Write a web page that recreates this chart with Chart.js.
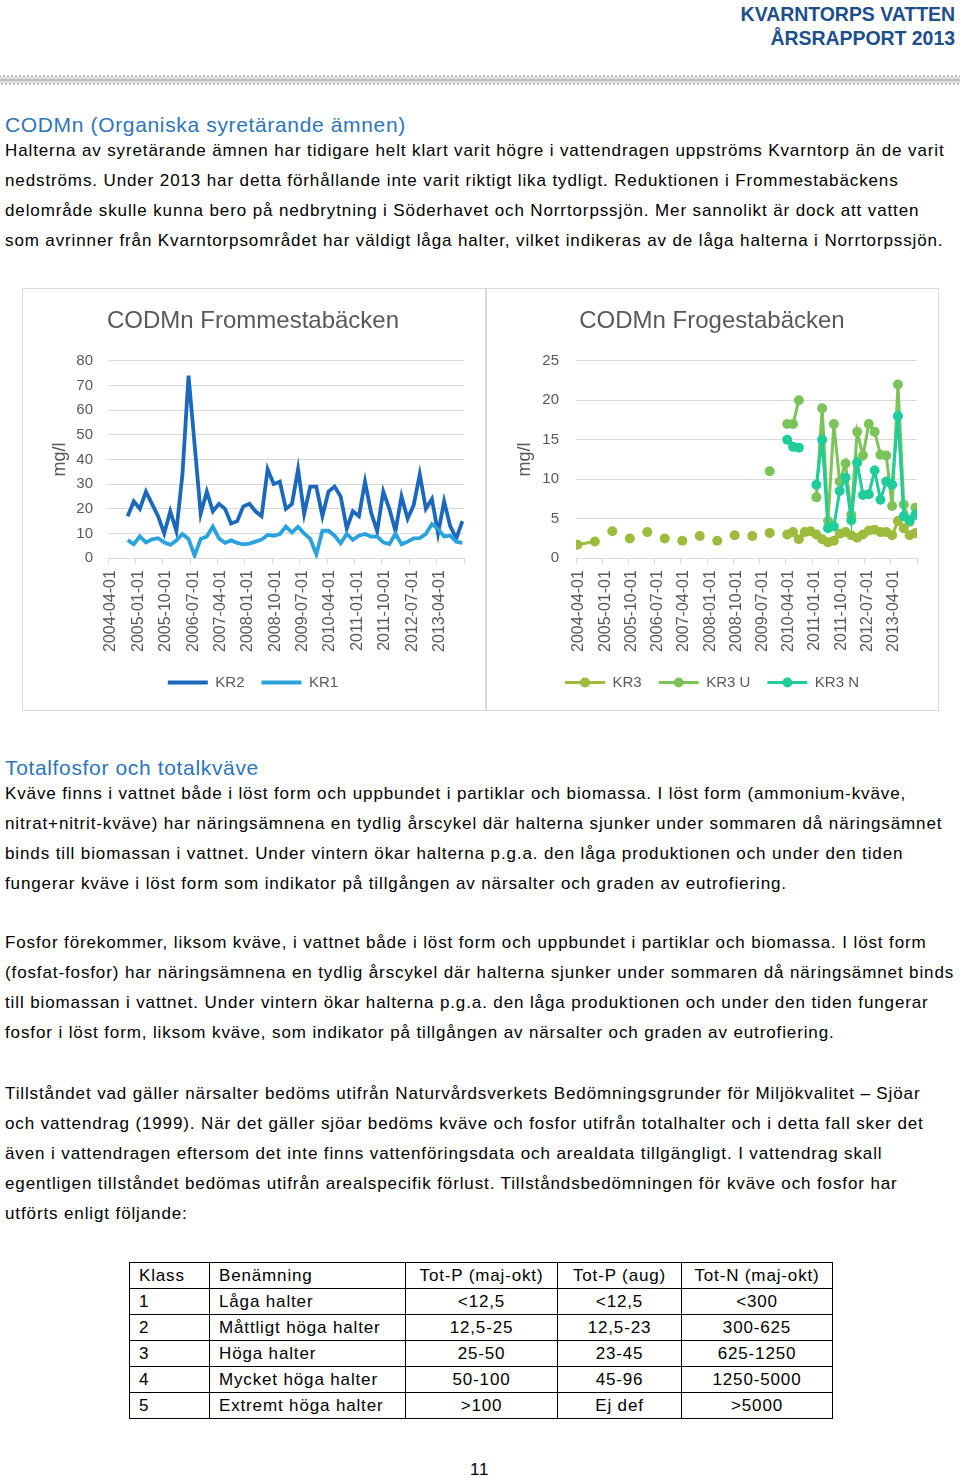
<!DOCTYPE html>
<html>
<head>
<meta charset="utf-8">
<script src="https://cdn.jsdelivr.net/npm/chart.js@4.4.1/dist/chart.umd.min.js"></script>
<style>
  html, body { margin: 0; padding: 0; background: #fff; }
  body { width: 960px; height: 1478px; position: relative; overflow: hidden; font-family: 'Liberation Sans', Arial, sans-serif; color: #000; }
  .hdr { position: absolute; right: 5px; font-weight: bold; font-size: 19.5px; color: #1d4f8b; letter-spacing: -0.05px; line-height: 24px; text-align: right; }
  .h2 { position: absolute; left: 5px; font-size: 21px; color: #2e75b6; letter-spacing: 0.65px; line-height: 26px; white-space: nowrap; }
  .p { position: absolute; left: 5px; font-size: 17px; line-height: 30px; letter-spacing: 0.88px; white-space: nowrap; }
  .box { position: absolute; border: 1px solid #d9d9d9; box-sizing: border-box; }
  .box canvas { display: block; }
  table { position: absolute; left: 129px; top: 1262px; border-collapse: collapse; font-size: 17px; letter-spacing: 0.85px; table-layout: fixed; width: 703px; }
  td { border: 1px solid #000; height: 25px; padding: 0 0 0 9px; white-space: nowrap; line-height: 25px; overflow: hidden; }
  td.c { text-align: center; padding: 0; }
  .pg { position: absolute; left: 470px; top: 1460px; font-size: 17px; letter-spacing: 0.8px; }
</style>
</head>
<body>
<div class="hdr" style="top:2px">KVARNTORPS VATTEN</div>
<div class="hdr" style="top:26px">ÅRSRAPPORT 2013</div>
<svg style="position:absolute;left:0;top:73px" width="960" height="14">
  <defs>
    <pattern id="zz" width="8" height="14" patternUnits="userSpaceOnUse">
      <polyline points="0,2 2,8 4,2 6,8 8,2" fill="none" stroke="#9a9a9a" stroke-width="0.7"/>
      <polyline points="0,6 2,12 4,6 6,12 8,6" fill="none" stroke="#9a9a9a" stroke-width="0.7"/>
    </pattern>
  </defs>
  <rect x="0" y="0" width="960" height="14" fill="url(#zz)"/>
</svg>

<div class="h2" style="top:112px">CODMn (Organiska syretärande ämnen)</div>
<div class="p" style="top:136px">Halterna av syretärande ämnen har tidigare helt klart varit högre i vattendragen uppströms Kvarntorp än de varit<br>nedströms. Under 2013 har detta förhållande inte varit riktigt lika tydligt. Reduktionen i Frommestabäckens<br>delområde skulle kunna bero på nedbrytning i Söderhavet och Norrtorpssjön. Mer sannolikt är dock att vatten<br>som avrinner från Kvarntorpsområdet har väldigt låga halter, vilket indikeras av de låga halterna i Norrtorpssjön.</div>

<div class="box" style="left:22px;top:288px;width:464px;height:423px"><canvas id="c1" width="462" height="421"></canvas></div>
<div class="box" style="left:486px;top:288px;width:453px;height:423px"><canvas id="c2" width="451" height="421"></canvas></div>

<div class="h2" style="top:755px">Totalfosfor och totalkväve</div>
<div class="p" style="top:779px">Kväve finns i vattnet både i löst form och uppbundet i partiklar och biomassa. I löst form (ammonium-kväve,<br>nitrat+nitrit-kväve) har näringsämnena en tydlig årscykel där halterna sjunker under sommaren då näringsämnet<br>binds till biomassan i vattnet. Under vintern ökar halterna p.g.a. den låga produktionen och under den tiden<br>fungerar kväve i löst form som indikator på tillgången av närsalter och graden av eutrofiering.</div>
<div class="p" style="top:928px">Fosfor förekommer, liksom kväve, i vattnet både i löst form och uppbundet i partiklar och biomassa. I löst form<br>(fosfat-fosfor) har näringsämnena en tydlig årscykel där halterna sjunker under sommaren då näringsämnet binds<br>till biomassan i vattnet. Under vintern ökar halterna p.g.a. den låga produktionen och under den tiden fungerar<br>fosfor i löst form, liksom kväve, som indikator på tillgången av närsalter och graden av eutrofiering.</div>
<div class="p" style="top:1079px">Tillståndet vad gäller närsalter bedöms utifrån Naturvårdsverkets Bedömningsgrunder för Miljökvalitet – Sjöar<br>och vattendrag (1999). När det gäller sjöar bedöms kväve och fosfor utifrån totalhalter och i detta fall sker det<br>även i vattendragen eftersom det inte finns vattenföringsdata och arealdata tillgängligt. I vattendrag skall<br>egentligen tillståndet bedömas utifrån arealspecifik förlust. Tillståndsbedömningen för kväve och fosfor har<br>utförts enligt följande:</div>

<table>
  <colgroup><col style="width:80px"><col style="width:196px"><col style="width:152px"><col style="width:124px"><col style="width:151px"></colgroup>
  <tr><td>Klass</td><td>Benämning</td><td class="c">Tot-P (maj-okt)</td><td class="c">Tot-P (aug)</td><td class="c">Tot-N (maj-okt)</td></tr>
  <tr><td>1</td><td>Låga halter</td><td class="c">&lt;12,5</td><td class="c">&lt;12,5</td><td class="c">&lt;300</td></tr>
  <tr><td>2</td><td>Måttligt höga halter</td><td class="c">12,5-25</td><td class="c">12,5-23</td><td class="c">300-625</td></tr>
  <tr><td>3</td><td>Höga halter</td><td class="c">25-50</td><td class="c">23-45</td><td class="c">625-1250</td></tr>
  <tr><td>4</td><td>Mycket höga halter</td><td class="c">50-100</td><td class="c">45-96</td><td class="c">1250-5000</td></tr>
  <tr><td>5</td><td>Extremt höga halter</td><td class="c">&gt;100</td><td class="c">Ej def</td><td class="c">&gt;5000</td></tr>
</table>
<div class="pg">11</div>

<script>
// ---- data ----
const sampleDates = ['2004-04-15',
  '2004-10-15','2004-12-15','2005-02-15','2005-04-15','2005-06-15','2005-08-15','2005-10-15','2005-12-15',
  '2006-02-15','2006-04-15','2006-06-15','2006-08-15','2006-10-15','2006-12-15',
  '2007-02-15','2007-04-15','2007-06-15','2007-08-15','2007-10-15','2007-12-15',
  '2008-02-15','2008-04-15','2008-06-15','2008-08-15','2008-10-15','2008-12-15',
  '2009-02-15','2009-04-15','2009-06-15','2009-08-15','2009-10-15','2009-12-15',
  '2010-02-15','2010-04-15','2010-06-15','2010-08-15','2010-10-15','2010-12-15',
  '2011-02-15','2011-04-15','2011-06-15','2011-08-15','2011-10-15','2011-12-15',
  '2012-02-15','2012-04-15','2012-06-15','2012-08-15','2012-10-15','2012-12-15',
  '2013-02-15','2013-04-15','2013-06-15','2013-08-15','2013-10-15','2013-12-15'];

const kr2 = [null,
  17, 23, 20, 27, 22, 17, 10, 19, 11, 34,
  74, 46, 18, 27, 19, 22, 20, 14, 15, 21,
  22, 19, 17, 36, 30, 31, 20, 22, 36, 18,
  29, 29, 17, 27, 29, 25, 12, 19, 17, 31,
  18.5, 11, 27, 20, 11, 25, 16, 21.5, 34, 20,
  24, 10, 23, 13, 8, 15];
const kr1 = [null,
  7.3, 5.7, 8.8, 6.4, 7.6, 8.1, 6.4, 5.4, 7.1, 9.8,
  7.8, 1.0, 7.8, 8.8, 12.8, 8.0, 6.2, 7.2, 6.2, 5.6,
  5.9, 6.7, 7.5, 9.4, 9.1, 9.8, 12.8, 10.4, 12.7, 10.0,
  7.8, 1.5, 11.1, 11.1, 9.1, 6.0, 9.8, 7.4, 9.1, 9.8,
  8.7, 8.8, 6.4, 5.7, 10.0, 5.6, 6.7, 8.0, 8.1, 9.8,
  13.8, 11.8, 8.8, 9.1, 6.7, 6.2];
const kr3 = [1.7,
  2.1, null, null, 3.4, null, null, 2.5, null, null, 3.3,
  null, null, 2.5, null, null, 2.2, null, null, 2.8, null,
  null, 2.2, null, null, 2.9, null, null, 2.8, null, null,
  3.2, null, null, 3.0, 3.3, 2.4, 3.3, 3.4, 3.0, 2.4,
  2.0, 2.2, 3.1, 3.3, 2.9, 2.6, 3.0, 3.5, 3.6, 3.3,
  3.3, 2.9, 4.7, 3.8, 2.9, 3.2];
const kr3U = [null,
  null, null, null, null, null, null, null, null, null, null,
  null, null, null, null, null, null, null, null, null, null,
  null, null, null, null, null, null, null, null, null, null,
  11.0, null, null, 17.0, 17.0, 20.0, null, null, 7.7, 19.0,
  4.7, 17.0, 9.7, 12.0, 5.5, 16.0, 13.0, 17.0, 16.0, 13.1,
  13.0, 6.6, 22.0, 6.8, 4.6, 6.4];
const kr3N = [null,
  null, null, null, null, null, null, null, null, null, null,
  null, null, null, null, null, null, null, null, null, null,
  null, null, null, null, null, null, null, null, null, null,
  null, null, null, 15.0, 14.1, 14.0, null, null, 9.3, 15.0,
  3.8, 4.0, 8.5, 10.2, 4.8, 12.1, 8.0, 8.1, 11.1, 7.4,
  9.7, 9.3, 18.0, 5.3, 4.8, 5.5];

const tickLabels = ['2004-04-01','2005-01-01','2005-10-01','2006-07-01','2007-04-01','2008-01-01','2008-10-01',
  '2009-07-01','2010-04-01','2011-01-01','2011-10-01','2012-07-01','2013-04-01'];
const axisStart = '2004-04-01';
const axisEnd = '2014-01-01';

// ---- helpers ----
function monthIndex(d) {
  const [y, m, day] = d.split('-').map(Number);
  const [y0, m0] = axisStart.split('-').map(Number);
  return (y - y0) * 12 + (m - m0) + (day - 1) / 30;
}
function pts(vals) { return sampleDates.map((d, i) => ({ x: monthIndex(d), y: vals[i] })); }

const FONT = "'Liberation Sans', Arial, sans-serif";
const GREY = '#595959';
const GRID = '#d9d9d9';
Chart.defaults.font.family = FONT;
Chart.defaults.color = GREY;

const tickValues = tickLabels.concat([axisEnd]).map(monthIndex);

function xScale() {
  return {
    type: 'linear', min: monthIndex(axisStart), max: monthIndex(axisEnd),
    afterBuildTicks: ax => { ax.ticks = tickValues.map(v => ({ value: v })); },
    afterFit: ax => { ax.paddingLeft = 0; ax.paddingRight = 0; },
    ticks: { autoSkip: false, maxRotation: 90, minRotation: 90, padding: 6, labelOffset: 3, font: { size: 16 }, color: GREY,
      callback: (v, i) => tickLabels[i] !== undefined ? tickLabels[i] : '' },
    grid: { drawOnChartArea: false, drawTicks: true, tickLength: 6, color: GRID },
    border: { display: true, color: GRID }
  };
}
function yScale(max, step, width, pad) {
  return {
    min: 0, max: max,
    afterFit: ax => { ax.width = width; },
    ticks: { stepSize: step, padding: pad, font: { size: 15 }, color: GREY },
    grid: { color: GRID, drawTicks: false },
    border: { display: false },
    title: { display: true, text: 'mg/l', font: { size: 18 }, color: GREY, padding: { top: 7, bottom: 4 } }
  };
}

const dotLegend = {
  id: 'dotLegend',
  afterDraw(chart) {
    if (!chart.options.plugins.dotLegend) return;
    const lg = chart.legend; const ctx = chart.ctx;
    lg.legendItems.forEach((it, i) => {
      const hb = lg.legendHitBoxes[i];
      ctx.save();
      ctx.fillStyle = it.strokeStyle;
      ctx.beginPath();
      ctx.arc(hb.left + 20, hb.top + hb.height / 2, 5, 0, Math.PI * 2);
      ctx.fill();
      ctx.restore();
    });
  }
};

function legendLabels(chart) {
  return chart.data.datasets.map((ds, i) => ({
    text: ds.label, fillStyle: ds.borderColor, strokeStyle: ds.borderColor, fontColor: GREY,
    lineWidth: ds.borderWidth, pointStyle: 'line', hidden: false, datasetIndex: i, lineCap: 'butt'
  }));
}

function baseOptions(title, yMax, yStep, dots, padLeft, padRight, yWidth, yPad) {
  return {
    responsive: false, animation: false,
    layout: { padding: { left: padLeft, right: padRight, top: 14, bottom: 10 } },
    scales: { x: xScale(), y: yScale(yMax, yStep, yWidth, yPad) },
    plugins: {
      dotLegend: dots,
      title: { display: true, text: title, font: { size: 24, weight: 'normal' }, color: GREY, padding: { top: 4, bottom: 25 } },
      legend: { position: 'bottom',
        labels: { usePointStyle: true, pointStyleWidth: 40, font: { size: 15 }, color: GREY, padding: 17,
          generateLabels: legendLabels } },
      tooltip: { enabled: false }
    }
  };
}

new Chart(document.getElementById('c1'), {
  type: 'line',
  data: { datasets: [
    { label: 'KR2', data: pts(kr2), borderColor: '#1c68bd', backgroundColor: '#1c68bd', borderWidth: 3.8, pointRadius: 0, tension: 0, order: 2 },
    { label: 'KR1', data: pts(kr1), borderColor: '#2aa2dc', backgroundColor: '#2aa2dc', borderWidth: 3.8, pointRadius: 0, tension: 0, order: 1 }
  ] },
  options: baseOptions('CODMn Frommestabäcken', 80, 10, false, 19, 21, 66, 15),
  plugins: [dotLegend]
});

new Chart(document.getElementById('c2'), {
  type: 'line',
  data: { datasets: [
    { label: 'KR3', data: pts(kr3), borderColor: '#9dbb3c', backgroundColor: '#9dbb3c', borderWidth: 3, pointRadius: 5, pointBorderWidth: 0, tension: 0, order: 3 },
    { label: 'KR3 U', data: pts(kr3U), borderColor: '#7cc35a', backgroundColor: '#7cc35a', borderWidth: 3, pointRadius: 5, pointBorderWidth: 0, tension: 0, order: 2 },
    { label: 'KR3 N', data: pts(kr3N), borderColor: '#1fcd9a', backgroundColor: '#1fcd9a', borderWidth: 3, pointRadius: 5, pointBorderWidth: 0, tension: 0, order: 1 }
  ] },
  options: baseOptions('CODMn Frogestabäcken', 25, 5, true, 20, 21, 69, 17),
  plugins: [dotLegend]
});
</script>
</body>
</html>
